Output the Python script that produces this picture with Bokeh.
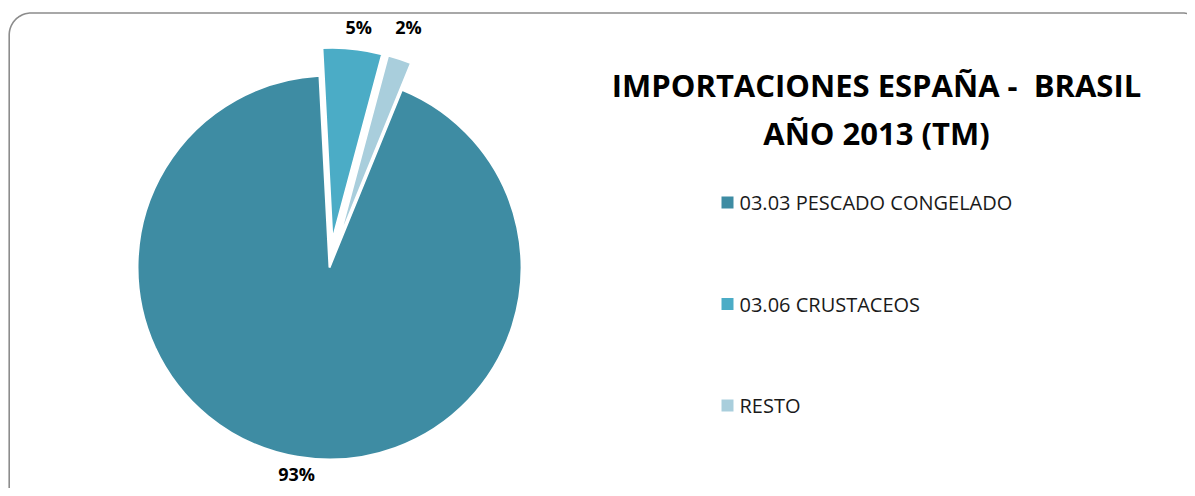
import numpy as np
from bokeh.plotting import figure
from bokeh.models import Range1d, ColumnDataSource
from bokeh.core.properties import value
from bokeh.embed import file_html
from bokeh.resources import INLINE

# ---- data ----
categories = ["03.03 PESCADO CONGELADO", "03.06 CRUSTACEOS", "RESTO"]
shares = [93, 5, 2]
labels = ["93%", "5%", "2%"]
colors = ["#3E8CA3", "#4BACC6", "#A9CEDC"]
exploded = [0, 1, 1]
title_lines = ["IMPORTACIONES ESPAÑA -\u00a0 BRASIL", "AÑO 2013 (TM)"]

# ---- layout (screen px) ----
W, H = 1187, 488
def S(y):  # screen y -> data y
    return H - y

p = figure(width=W, height=H, output_backend="svg", toolbar_location=None,
           x_range=Range1d(0, W), y_range=Range1d(0, H),
           min_border=0, outline_line_color=None)
p.axis.visible = False
p.grid.visible = False
p.background_fill_color = "white"
p.border_fill_color = "white"

# rounded chart-area frame
def rounded_path(l, t, r, b, rad, n=24):
    xs, ys = [], []
    corners = [((l + rad, t + rad), 180, 270), ((r - rad, t + rad), 270, 360),
               ((r - rad, b - rad), 0, 90), ((l + rad, b - rad), 90, 180)]
    for (cx, cy), a0, a1 in corners:
        a = np.radians(np.linspace(a0, a1, n))
        xs += list(cx + rad * np.cos(a))
        ys += list(cy + rad * np.sin(a))
    xs.append(xs[0]); ys.append(ys[0])
    return np.array(xs), np.array(ys)

fx, fy = rounded_path(8.7, 12.5, 1204, 530, 22)
p.line(fx, [S(v) for v in fy], line_color="#8C8C8C", line_width=1.6)

# ---- pie ----
cx, cy, R = 329, S(267), 192
first_angle = 22.2     # clockwise from 12 o'clock (deg)
explode_px = 28
total = float(sum(shares))
cum = first_angle
rows = dict(x=[], y=[], start=[], end=[], color=[])
label_pos = []
label_extra = [5, 12, 12]
for i, s in enumerate(shares):
    a = cum
    b = cum + 360.0 * s / total
    cum = b
    mid = np.radians((a + b) / 2)
    e = explode_px * exploded[i]
    ox = cx + e * np.sin(mid)
    oy = cy + e * np.cos(mid)
    rows["x"].append(ox); rows["y"].append(oy)
    rows["start"].append(np.radians(90 - b)); rows["end"].append(np.radians(90 - a))
    rows["color"].append(colors[i])
    rl = R + label_extra[i]
    label_pos.append((ox + rl * np.sin(mid), oy + rl * np.cos(mid), np.cos(mid)))

src = ColumnDataSource(rows)
p.wedge(x="x", y="y", radius=R, radius_units="screen", start_angle="start",
        end_angle="end", fill_color="color", line_color="white", line_width=2,
        source=src)

lab = dict(x=[], y=[], t=[], base=[])
for (lx, ly, c), t in zip(label_pos, labels):
    lab["x"].append(lx); lab["y"].append(ly); lab["t"].append(t)
    lab["base"].append("bottom" if c > 0 else "top")
# put the small top labels on a common line like the reference
top_idx = [i for i in range(3) if lab["base"][i] == "bottom"]
top_y = max(lab["y"][i] for i in top_idx)
for i in top_idx:
    lab["y"][i] = top_y - 2
    lab["x"][i] += 5
p.text(x="x", y="y", text="t", text_baseline="base", text_align="center",
       text_font=value("Open Sans"), text_font_style="bold",
       text_font_size="18px", text_color="#000000",
       source=ColumnDataSource(lab))

# ---- title ----
tx = 876
p.text(x=[tx, tx], y=[S(84), S(132)], text=title_lines,
       text_align="center", text_baseline="middle",
       text_font=value("Open Sans"), text_font_style="bold",
       text_font_size="31px", text_color="#000000")

# ---- legend ----
leg_x, leg_y0, leg_dy = 727, 202, 101.5
ly = [S(leg_y0 + i * leg_dy) for i in range(len(categories))]
p.rect(x=[leg_x] * 3, y=ly, width=12, height=12, width_units="screen",
       height_units="screen", fill_color=colors, line_color=None)
p.text(x=[leg_x + 12] * 3, y=ly, text=categories, text_align="left",
       text_baseline="middle", text_font=value("Open Sans"),
       text_font_size="20px", text_color="#1A1A1A")

open("out.html", "w").write(file_html(p, INLINE))
